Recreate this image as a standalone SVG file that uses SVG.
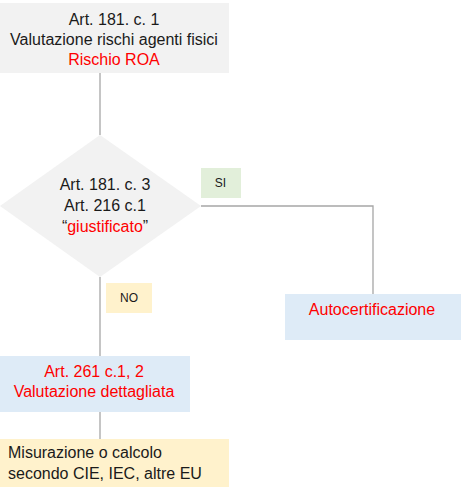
<svg xmlns="http://www.w3.org/2000/svg" width="464" height="488" viewBox="0 0 464 488">
<style>
text{font-family:"Liberation Sans",Arial,sans-serif;font-size:16px;fill:#1a1a1a}
.c{text-anchor:middle}
.r{fill:#ff0000}
.s{font-size:12px}
.ln{stroke:#a6a6a6;stroke-width:1.3;fill:none}
</style>
<rect width="464" height="488" fill="#ffffff"/>
<g id="connectors">
<line class="ln" x1="100" y1="73" x2="100" y2="135"/>
<polyline class="ln" points="201,206 373,206 373,294"/>
<line class="ln" x1="100" y1="277" x2="100" y2="356"/>
<line class="ln" x1="100" y1="412" x2="100" y2="439"/>
</g>
<g id="node-art181c1">
<rect x="0" y="3" width="229" height="70" fill="#f2f2f2"/>
<text class="c" x="114" y="25">Art. 181. c. 1</text>
<text class="c" x="114" y="45">Valutazione rischi agenti fisici</text>
<text class="c r" x="114" y="65">Rischio ROA</text>
</g>
<g id="node-decision">
<polygon points="100,135 201,206 100,277 0,206" fill="#f2f2f2"/>
<text class="c" x="105" y="190">Art. 181. c. 3</text>
<text class="c" x="105" y="211">Art. 216 c.1</text>
<text class="c" x="105" y="232">“<tspan class="r">giustificato</tspan>”</text>
</g>
<g id="label-si">
<rect x="201" y="168" width="40" height="30" fill="#e2efda"/>
<text class="c s" x="220.5" y="187">SI</text>
</g>
<g id="label-no">
<rect x="106" y="283" width="46" height="30" fill="#fff2cc"/>
<text class="c s" x="129" y="302">NO</text>
</g>
<g id="node-autocert">
<rect x="285" y="294" width="176" height="46" fill="#deebf7"/>
<text class="c r" x="372" y="315">Autocertificazione</text>
</g>
<g id="node-art261">
<rect x="0" y="356" width="190" height="56" fill="#deebf7"/>
<text class="c r" x="94" y="377">Art. 261 c.1, 2</text>
<text class="c r" x="94" y="397">Valutazione dettagliata</text>
</g>
<g id="node-misurazione">
<rect x="0" y="439" width="229" height="48" fill="#fff2cc"/>
<text x="8" y="458">Misurazione o calcolo</text>
<text x="8" y="479">secondo CIE, IEC, altre EU</text>
</g>
</svg>
